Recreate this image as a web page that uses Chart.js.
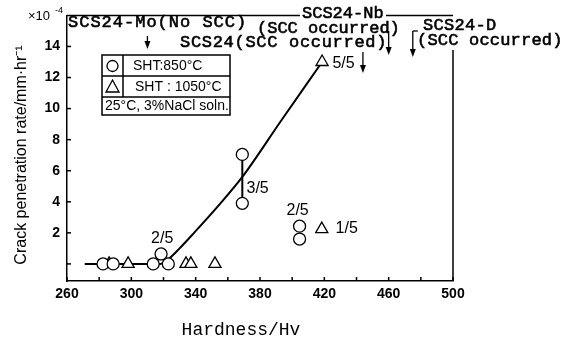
<!DOCTYPE html>
<html>
<head>
<meta charset="utf-8">
<script src="https://cdn.jsdelivr.net/npm/chart.js@4"></script>
<style>
  html, body { margin: 0; padding: 0; background: #fff; }
</style>
</head>
<body>
<canvas id="graf" width="573" height="343"></canvas>
<script>
// dureza (Hv) x taxa de penetracao da trinca (x10^-4 mm/hr)
var hv850 = [282.4, 288.7, 313.6, 323, 318.5, 369, 369, 404.6, 404.6];
var taxa850 = [0, 0, 0, 0, 0.64, 7.05, 3.9, 2.43, 1.6];
var hv1050 = [286.2, 298, 334, 337, 352, 418.4, 418.6];
var taxa1050 = [0, 0, 0, 0, 0, 2.24, 13.0];

// curva desenhada no original
var hvCurva = [271, 318, 323, 330, 339, 355, 369, 393, 418.6];
var taxaCurva = [0, 0, 0.3, 1.0, 2.0, 3.85, 5.6, 9.2, 13];

// faixa vertical em 369 Hv
var hvFaixa = [369, 369];
var taxaFaixa = [3.9, 7.05];

// ticks dos eixos
var ticksX = [260, 280, 300, 320, 340, 360, 380, 400, 420, 440, 460, 480, 500];
var ticksY = [0, 2, 4, 6, 8, 10, 12, 14];

// fracoes (amostras com trinca)
var fracTexto = ['2/5', '3/5', '2/5', '1/5', '5/5'];
var fracHv = [319.2, 371.6, 403.4, 427, 425];
var fracTaxa = [1.6, 4.87, 3.46, 2.3, 12.9];
var fracAlign = ['center', 'left', 'center', 'left', 'left'];

// dureza de cada liga (setas no topo)
var ligaHv = [310, 444, 460, 475];

function pontos(xs, ys) {
  return xs.map(function (x, i) { return { x: x, y: ys[i] }; });
}

function seta(ctx, x, y1, y2) {
  ctx.beginPath();
  ctx.moveTo(x, y1);
  ctx.lineTo(x, y2 - 6);
  ctx.stroke();
  ctx.beginPath();
  ctx.moveTo(x - 3, y2 - 8);
  ctx.lineTo(x + 3, y2 - 8);
  ctx.lineTo(x, y2);
  ctx.closePath();
  ctx.fill();
}

// texto tipo maquina de escrever, um pouco engrossado
function texto(ctx, t, x, y, esp) {
  ctx.letterSpacing = (esp || 0) + 'px';
  ctx.fillText(t, x, y);
  ctx.strokeText(t, x, y);
  ctx.letterSpacing = '0px';
}

var mono = "17px 'Liberation Mono', 'DejaVu Sans Mono', monospace";
var sans = "'Liberation Sans', Arial, sans-serif";

const extras = {
  id: 'extras',
  afterDraw: (chart) => {
    const ctx = chart.ctx;
    const xs = chart.scales.x, ys = chart.scales.y;
    const a = chart.chartArea;
    ctx.save();
    ctx.strokeStyle = '#000';
    ctx.fillStyle = '#000';
    ctx.lineWidth = 1.5;

    // marcas dos ticks para dentro
    ticksX.forEach(function (v) {
      const px = xs.getPixelForValue(v);
      ctx.beginPath(); ctx.moveTo(px, a.bottom); ctx.lineTo(px, a.bottom - 4); ctx.stroke();
    });
    ticksY.forEach(function (v) {
      const py = ys.getPixelForValue(v);
      ctx.beginPath(); ctx.moveTo(a.left, py); ctx.lineTo(a.left + 4, py); ctx.stroke();
    });

    // moldura de cima (interrompida pelo texto SCS24-Nb) e lado direito
    ctx.beginPath(); ctx.moveTo(a.left, a.top); ctx.lineTo(300, a.top); ctx.stroke();
    ctx.beginPath(); ctx.moveTo(386, a.top); ctx.lineTo(a.right, a.top); ctx.stroke();
    ctx.beginPath(); ctx.moveTo(a.right, 50); ctx.lineTo(a.right, a.bottom); ctx.stroke();

    // textos das ligas
    ctx.font = mono;
    ctx.lineWidth = 0.6;
    ctx.textBaseline = 'middle';
    ctx.textAlign = 'left';
    texto(ctx, 'SCS24-Mo(No SCC)', 68, 22, 1);
    texto(ctx, 'SCS24-Nb', 302, 13);
    texto(ctx, '(SCC occurred)', 257, 28);
    texto(ctx, 'SCS24(SCC occurred)', 180, 42, 0.7);
    texto(ctx, 'SCS24-D', 423, 25, 0.3);
    texto(ctx, '(SCC occurred)', 417, 40, 0.2);

    // setas
    ctx.lineWidth = 1.3;
    seta(ctx, xs.getPixelForValue(ligaHv[0]), 36, 49);
    seta(ctx, xs.getPixelForValue(ligaHv[1]), 52, 73);
    seta(ctx, xs.getPixelForValue(ligaHv[2]), 31, 55);
    const xd = xs.getPixelForValue(ligaHv[3]);
    seta(ctx, xd, 31, 57);
    ctx.beginPath(); ctx.moveTo(xd, 31); ctx.lineTo(xd + 5, 31); ctx.stroke();

    // caixa da legenda
    ctx.lineWidth = 1.5;
    ctx.strokeRect(102, 55, 128, 60);
    ctx.beginPath();
    ctx.moveTo(102, 76); ctx.lineTo(230, 76);
    ctx.moveTo(102, 97); ctx.lineTo(230, 97);
    ctx.moveTo(123, 55); ctx.lineTo(123, 97);
    ctx.stroke();
    ctx.lineWidth = 1.3;
    ctx.beginPath(); ctx.arc(112.5, 66, 5.5, 0, Math.PI * 2); ctx.stroke();
    ctx.beginPath();
    ctx.moveTo(112.5, 80); ctx.lineTo(119, 92); ctx.lineTo(106, 92); ctx.closePath();
    ctx.stroke();
    ctx.font = '14px ' + sans;
    ctx.fillText('SHT:850°C', 133, 66);
    ctx.fillText('SHT : 1050°C', 135, 87);
    ctx.fillText('25°C, 3%NaCl soln.', 105, 106);

    // fracoes
    ctx.font = '16px ' + sans;
    fracTexto.forEach(function (t, i) {
      ctx.textAlign = fracAlign[i];
      ctx.fillText(t, xs.getPixelForValue(fracHv[i]), ys.getPixelForValue(fracTaxa[i]));
    });

    // titulos dos eixos
    ctx.textAlign = 'center';
    ctx.font = "18px 'Liberation Mono', monospace";
    ctx.fillText('Hardness/Hv', 241, 330);
    ctx.save();
    ctx.translate(22, 155);
    ctx.rotate(-Math.PI / 2);
    ctx.font = '16px ' + sans;
    ctx.fillText('Crack penetration rate/mm·hr⁻¹', 0, 0);
    ctx.restore();
    ctx.textAlign = 'left';
    ctx.font = '13px ' + sans;
    ctx.fillText('×10', 28, 16);
    ctx.font = '9px ' + sans;
    ctx.fillText('-4', 55, 11);
    ctx.restore();
  }
};

var fonteTicks = { family: "'Liberation Sans', Arial, sans-serif", size: 14, weight: 'bold' };

var ctx = document.getElementById('graf');
var graf = new Chart(ctx, {
  type: 'scatter',
  data: {
    datasets: [
      {
        label: 'SHT:850°C',
        data: pontos(hv850, taxa850),
        pointStyle: 'circle',
        pointRadius: 6,
        backgroundColor: '#fff',
        borderColor: '#000',
        borderWidth: 1.3,
        order: 1
      },
      {
        label: 'SHT:1050°C',
        data: pontos(hv1050, taxa1050),
        pointStyle: 'triangle',
        pointRadius: 7,
        backgroundColor: '#fff',
        borderColor: '#000',
        borderWidth: 1.3,
        order: 1
      },
      {
        label: 'curva',
        data: pontos(hvCurva, taxaCurva),
        showLine: true,
        pointRadius: 0,
        borderColor: '#000',
        borderWidth: 2,
        cubicInterpolationMode: 'monotone',
        order: 3
      },
      {
        label: 'faixa',
        data: pontos(hvFaixa, taxaFaixa),
        showLine: true,
        pointRadius: 0,
        borderColor: '#000',
        borderWidth: 2,
        order: 3
      }
    ]
  },
  options: {
    responsive: false,
    animation: false,
    devicePixelRatio: 1,
    layout: { padding: { top: 14, right: 120, left: 0, bottom: 0 } },
    plugins: { legend: { display: false }, tooltip: { enabled: false } },
    scales: {
      x: {
        min: 260,
        max: 500,
        afterBuildTicks: (s) => { s.ticks = ticksX.map(v => ({ value: v })); },
        afterFit: (s) => { s.height = 62; },
        grid: { display: false, drawTicks: false },
        border: { display: true, color: '#000', width: 1.5 },
        ticks: {
          color: '#000',
          padding: 5,
          maxRotation: 0,
          autoSkip: false,
          font: fonteTicks,
          callback: (v) => ((v - 260) % 40 === 0 ? v : '')
        }
      },
      y: {
        min: -1.1,
        max: 16,
        afterBuildTicks: (s) => { s.ticks = ticksY.map(v => ({ value: v })); },
        afterFit: (s) => { s.width = 67; },
        grid: { display: false, drawTicks: false },
        border: { display: true, color: '#000', width: 1.5 },
        ticks: {
          color: '#000',
          padding: 7,
          autoSkip: false,
          font: fonteTicks,
          callback: (v) => (v === 0 ? '' : v)
        }
      }
    }
  },
  plugins: [extras]
});
</script>
</body>
</html>
